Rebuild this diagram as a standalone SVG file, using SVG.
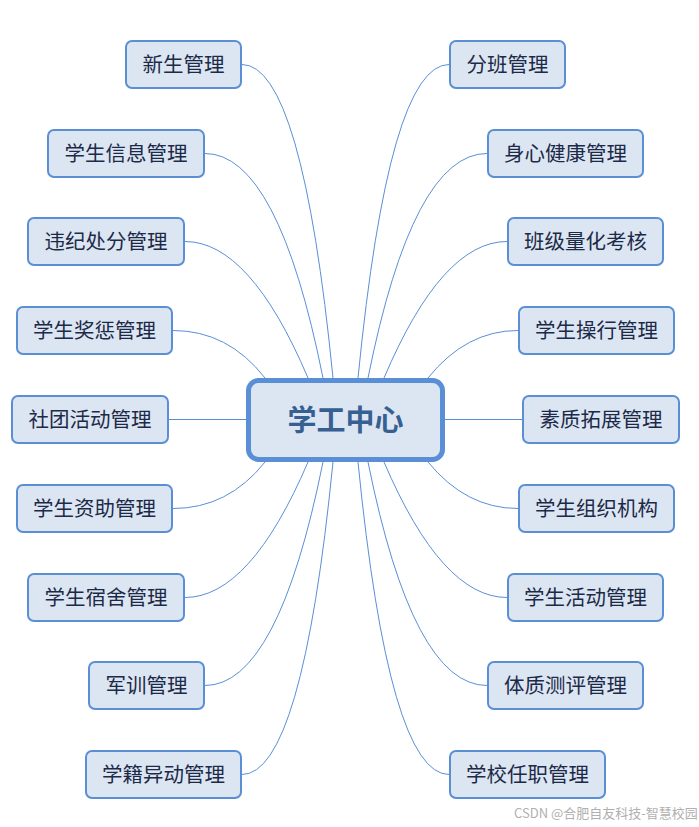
<svg xmlns="http://www.w3.org/2000/svg" width="699" height="827" viewBox="0 0 699 827">
<style>
.n rect{fill:#dce6f2;stroke:#5a8fd5;stroke-width:2}
.n text{font-family:"Microsoft YaHei","Noto Sans CJK SC",sans-serif;font-size:20.5px;fill:#1c2a48;text-anchor:middle}
.c rect{fill:#dce6f2;stroke:#5a8fd5;stroke-width:5}
.c text{font-family:"Microsoft YaHei","Noto Sans CJK SC",sans-serif;font-size:29px;font-weight:bold;fill:#366092;text-anchor:middle}
#connectors path{fill:none;stroke:#5a8fd5;stroke-width:1}
.wm{font-family:"Noto Sans CJK SC",sans-serif;font-size:13px;fill:#b0b0b0}
</style>
<rect width="699" height="827" fill="#ffffff"/>
<g id="connectors">
<path d="M242,64.5 Q302,64.5 333,378"/>
<path d="M205,153.5 Q278,153.5 323,378"/>
<path d="M185,241.5 Q250,241.5 308,378"/>
<path d="M173,330.5 Q228,330.5 265,378"/>
<path d="M169,419.5 L246,419.5"/>
<path d="M173,508.5 Q228,508.5 265,462"/>
<path d="M185,597.5 Q250,597.5 308,462"/>
<path d="M205,685.5 Q278,685.5 323,462"/>
<path d="M242,774.5 Q302,774.5 333,462"/>
<path d="M449,64.5 Q389,64.5 358,378"/>
<path d="M487,153.5 Q413,153.5 368,378"/>
<path d="M507,241.5 Q442,241.5 384,378"/>
<path d="M518,330.5 Q466,330.5 428,378"/>
<path d="M445,419.5 L522,419.5"/>
<path d="M518,508.5 Q466,508.5 428,462"/>
<path d="M507,597.5 Q442,597.5 384,462"/>
<path d="M487,685.5 Q413,685.5 368,462"/>
<path d="M449,774.5 Q389,774.5 358,462"/>
</g>
<g id="center" class="c"><rect x="248.5" y="380.5" width="194" height="79" rx="10"/><text x="345.5" y="431">学工中心</text></g>
<g id="n-l1" class="n"><rect x="126" y="41" width="115" height="47" rx="6"/><text x="183.5" y="72">新生管理</text></g>
<g id="n-l2" class="n"><rect x="48" y="130" width="156" height="47" rx="6"/><text x="126" y="161">学生信息管理</text></g>
<g id="n-l3" class="n"><rect x="28" y="218" width="156" height="47" rx="6"/><text x="106" y="249">违纪处分管理</text></g>
<g id="n-l4" class="n"><rect x="17" y="307" width="155" height="47" rx="6"/><text x="94.5" y="338">学生奖惩管理</text></g>
<g id="n-l5" class="n"><rect x="12" y="396" width="156" height="47" rx="6"/><text x="90" y="427">社团活动管理</text></g>
<g id="n-l6" class="n"><rect x="17" y="485" width="155" height="47" rx="6"/><text x="94.5" y="516">学生资助管理</text></g>
<g id="n-l7" class="n"><rect x="28" y="574" width="156" height="47" rx="6"/><text x="106" y="605">学生宿舍管理</text></g>
<g id="n-l8" class="n"><rect x="89" y="662" width="115" height="47" rx="6"/><text x="146.5" y="693">军训管理</text></g>
<g id="n-l9" class="n"><rect x="86" y="751" width="155" height="47" rx="6"/><text x="163.5" y="782">学籍异动管理</text></g>
<g id="n-r1" class="n"><rect x="450" y="41" width="115" height="47" rx="6"/><text x="507.5" y="72">分班管理</text></g>
<g id="n-r2" class="n"><rect x="488" y="130" width="155" height="47" rx="6"/><text x="565.5" y="161">身心健康管理</text></g>
<g id="n-r3" class="n"><rect x="508" y="218" width="155" height="47" rx="6"/><text x="585.5" y="249">班级量化考核</text></g>
<g id="n-r4" class="n"><rect x="519" y="307" width="155" height="47" rx="6"/><text x="596.5" y="338">学生操行管理</text></g>
<g id="n-r5" class="n"><rect x="523" y="396" width="156" height="47" rx="6"/><text x="601" y="427">素质拓展管理</text></g>
<g id="n-r6" class="n"><rect x="519" y="485" width="155" height="47" rx="6"/><text x="596.5" y="516">学生组织机构</text></g>
<g id="n-r7" class="n"><rect x="508" y="574" width="155" height="47" rx="6"/><text x="585.5" y="605">学生活动管理</text></g>
<g id="n-r8" class="n"><rect x="488" y="662" width="155" height="47" rx="6"/><text x="565.5" y="693">体质测评管理</text></g>
<g id="n-r9" class="n"><rect x="450" y="751" width="155" height="47" rx="6"/><text x="527.5" y="782">学校任职管理</text></g>
<text class="wm" x="514" y="818">CSDN @合肥自友科技-智慧校园</text>
</svg>
